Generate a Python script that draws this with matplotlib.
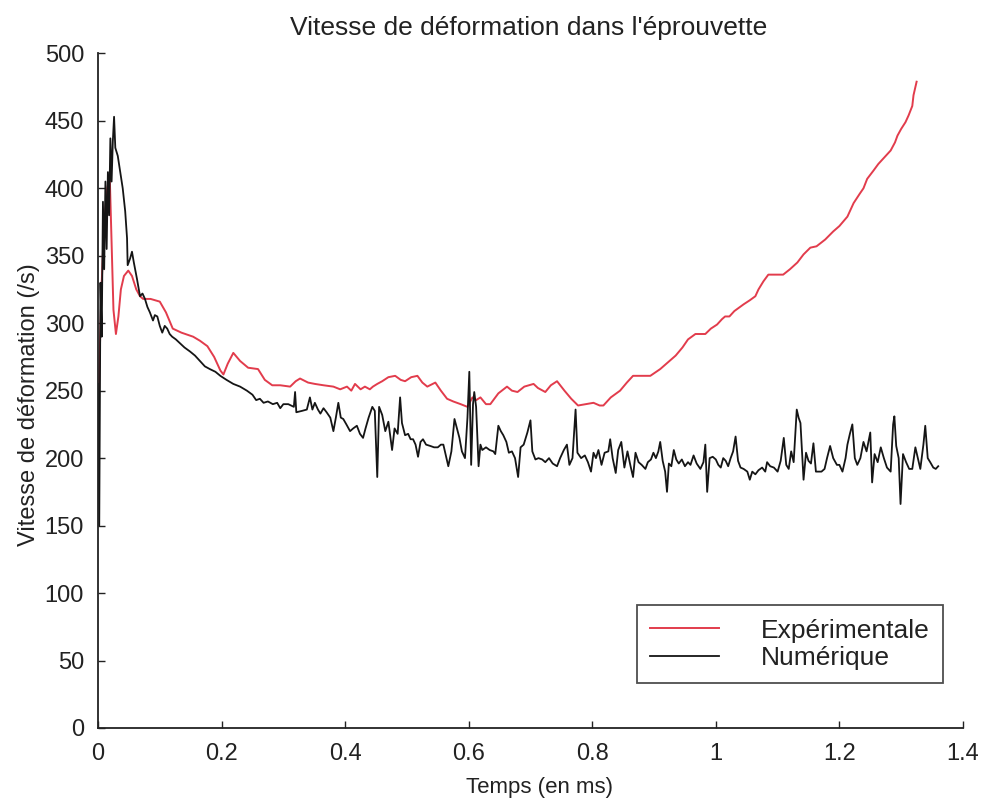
import matplotlib
matplotlib.use("Agg")
import matplotlib.pyplot as plt
from matplotlib.ticker import FuncFormatter, MultipleLocator

plt.rcParams['font.family'] = ['Liberation Sans', 'DejaVu Sans']

# Experimental strain rate (time in ms, rate in 1/s)
t_exp = [0.000, 0.002, 0.006, 0.010, 0.015, 0.019, 0.022, 0.025, 0.029, 0.033,
         0.037, 0.042, 0.049, 0.055, 0.062, 0.068, 0.073, 0.085, 0.100, 0.110,
         0.121, 0.135, 0.154, 0.165, 0.177, 0.188, 0.198, 0.203, 0.210, 0.219,
         0.230, 0.243, 0.259, 0.270, 0.282, 0.295, 0.311, 0.320, 0.327, 0.340,
         0.351, 0.365, 0.381, 0.392, 0.403, 0.410, 0.416, 0.425, 0.432, 0.440,
         0.445, 0.452, 0.460, 0.470, 0.481, 0.490, 0.497, 0.507, 0.517, 0.525,
         0.533, 0.546, 0.555, 0.565, 0.575, 0.587, 0.598, 0.606, 0.612, 0.619,
         0.628, 0.635, 0.648, 0.662, 0.670, 0.679, 0.690, 0.705, 0.712, 0.724,
         0.733, 0.743, 0.755, 0.766, 0.777, 0.790, 0.802, 0.812, 0.818, 0.830,
         0.845, 0.856, 0.866, 0.880, 0.894, 0.910, 0.925, 0.935, 0.946, 0.955,
         0.967, 0.975, 0.983, 0.992, 1.002, 1.010, 1.015, 1.022, 1.030, 1.045,
         1.055, 1.064, 1.069, 1.077, 1.085, 1.100, 1.109, 1.120, 1.132, 1.142,
         1.153, 1.163, 1.177, 1.190, 1.200, 1.213, 1.223, 1.233, 1.239, 1.245,
         1.255, 1.263, 1.275, 1.283, 1.290, 1.294, 1.300, 1.307, 1.312, 1.318,
         1.320, 1.325]
v_exp = [185, 265, 330, 375, 400, 409, 360, 310, 292, 305,
         325, 335, 339, 335, 325, 320, 318, 318, 316, 308,
         296, 293, 290, 287, 283, 275, 265, 262, 270, 278,
         272, 267, 266, 258, 254, 254, 253, 257, 259, 256,
         255, 254, 253, 251, 253, 250, 255, 251, 253, 251,
         253, 255, 257, 260, 261, 258, 257, 260, 261, 256,
         253, 256, 250, 244, 242, 240, 238, 245, 243, 245,
         240, 240, 248, 253, 250, 249, 253, 255, 252, 249,
         254, 257, 250, 244, 239, 240, 241, 239, 239, 245,
         250, 256, 261, 261, 261, 266, 272, 276, 282, 288,
         292, 292, 292, 296, 299, 303, 305, 305, 309, 314,
         317, 320, 325, 331, 336, 336, 336, 340, 345, 351,
         356, 357, 362, 368, 372, 379, 389, 396, 400, 407,
         413, 418, 424, 428, 434, 439, 444, 449, 454, 461,
         469, 479]

# Numerical strain rate (time in ms, rate in 1/s)
t_num = [0.000, 0.002, 0.004, 0.006, 0.008, 0.010, 0.012, 0.014, 0.016, 0.018,
         0.020, 0.022, 0.024, 0.026, 0.028, 0.032, 0.036, 0.040, 0.044, 0.047,
         0.048, 0.052, 0.055, 0.058, 0.063, 0.068, 0.072, 0.076, 0.080, 0.084,
         0.089, 0.092, 0.096, 0.100, 0.104, 0.108, 0.112, 0.116, 0.120, 0.126,
         0.133, 0.140, 0.149, 0.157, 0.165, 0.173, 0.181, 0.190, 0.198, 0.208,
         0.219, 0.230, 0.241, 0.250, 0.256, 0.262, 0.268, 0.275, 0.283, 0.290,
         0.295, 0.300, 0.308, 0.317, 0.319, 0.321, 0.330, 0.338, 0.343, 0.347,
         0.351, 0.356, 0.360, 0.365, 0.370, 0.376, 0.381, 0.385, 0.389, 0.393,
         0.397, 0.402, 0.408, 0.413, 0.419, 0.424, 0.429, 0.433, 0.438, 0.444,
         0.448, 0.452, 0.455, 0.460, 0.465, 0.470, 0.476, 0.480, 0.485, 0.489,
         0.492, 0.497, 0.502, 0.506, 0.510, 0.514, 0.518, 0.522, 0.526, 0.531,
         0.538, 0.544, 0.550, 0.555, 0.559, 0.563, 0.567, 0.572, 0.577, 0.581,
         0.585, 0.589, 0.594, 0.598, 0.601, 0.604, 0.607, 0.609, 0.612, 0.616,
         0.619, 0.622, 0.628, 0.634, 0.640, 0.643, 0.648, 0.652, 0.656, 0.661,
         0.665, 0.670, 0.675, 0.680, 0.684, 0.689, 0.695, 0.700, 0.703, 0.708,
         0.713, 0.719, 0.724, 0.730, 0.736, 0.743, 0.748, 0.754, 0.759, 0.763,
         0.768, 0.773, 0.776, 0.782, 0.788, 0.793, 0.798, 0.802, 0.806, 0.810,
         0.815, 0.820, 0.826, 0.829, 0.833, 0.838, 0.842, 0.847, 0.852, 0.857,
         0.862, 0.866, 0.870, 0.875, 0.880, 0.886, 0.890, 0.895, 0.899, 0.903,
         0.907, 0.910, 0.914, 0.918, 0.921, 0.924, 0.928, 0.932, 0.936, 0.940,
         0.945, 0.950, 0.955, 0.959, 0.964, 0.969, 0.975, 0.980, 0.983, 0.986,
         0.990, 0.995, 1.000, 1.004, 1.008, 1.012, 1.016, 1.020, 1.024, 1.028,
         1.032, 1.036, 1.040, 1.045, 1.051, 1.055, 1.059, 1.064, 1.069, 1.075,
         1.080, 1.083, 1.088, 1.094, 1.100, 1.105, 1.110, 1.114, 1.118, 1.122,
         1.126, 1.131, 1.134, 1.137, 1.142, 1.146, 1.150, 1.154, 1.158, 1.162,
         1.166, 1.171, 1.176, 1.180, 1.185, 1.190, 1.196, 1.200, 1.205, 1.210,
         1.213, 1.217, 1.221, 1.225, 1.229, 1.234, 1.239, 1.244, 1.250, 1.253,
         1.257, 1.262, 1.267, 1.272, 1.277, 1.283, 1.287, 1.289, 1.292, 1.296,
         1.299, 1.303, 1.308, 1.313, 1.318, 1.323, 1.327, 1.331, 1.336, 1.339,
         1.343, 1.347, 1.352, 1.356, 1.360]
v_num = [255, 150, 330, 290, 390, 340, 405, 355, 412, 380,
         437, 405, 435, 453, 430, 424, 412, 400, 383, 363,
         343, 348, 353, 345, 333, 320, 322, 318, 312, 308,
         302, 306, 305, 298, 293, 298, 296, 292, 290, 288,
         285, 282, 279, 276, 272, 268, 266, 264, 261, 258,
         255, 253, 250, 247, 243, 244, 241, 242, 240, 241,
         237, 240, 240, 238, 249, 234, 235, 236, 245, 236,
         241, 236, 233, 237, 234, 230, 220, 230, 241, 230,
         229, 225, 220, 222, 224, 218, 215, 222, 230, 238,
         235, 186, 238, 232, 220, 227, 206, 222, 218, 245,
         226, 217, 218, 214, 214, 210, 201, 212, 214, 210,
         209, 208, 208, 210, 210, 202, 194, 205, 229, 222,
         215, 205, 200, 230, 264, 195, 240, 249, 238, 194,
         210, 206, 208, 206, 205, 203, 224, 220, 217, 212,
         204, 205, 200, 186, 208, 210, 219, 228, 205, 199,
         200, 199, 197, 200, 196, 194, 200, 206, 210, 195,
         200, 236, 204, 200, 202, 197, 190, 204, 200, 206,
         195, 204, 205, 214, 200, 189, 206, 212, 193, 205,
         194, 186, 204, 197, 195, 192, 197, 199, 204, 200,
         205, 212, 198, 190, 175, 196, 194, 206, 199, 196,
         199, 194, 197, 195, 202, 196, 192, 197, 210, 175,
         200, 201, 199, 195, 193, 200, 198, 194, 200, 205,
         216, 198, 193, 192, 190, 184, 190, 188, 191, 193,
         190, 197, 194, 193, 190, 198, 215, 195, 192, 205,
         197, 236, 230, 226, 184, 204, 198, 196, 211, 190,
         190, 190, 192, 200, 209, 200, 195, 195, 190, 200,
         210, 218, 225, 200, 195, 200, 212, 205, 219, 182,
         203, 197, 208, 200, 193, 190, 225, 231, 209, 200,
         166, 203, 197, 192, 192, 208, 200, 192, 210, 224,
         200, 197, 193, 192, 194]

series_labels = ['Expérimentale', 'Numérique']
x_ticks = [0, 0.2, 0.4, 0.6, 0.8, 1.0, 1.2, 1.4]

ink = '#222222'

fig = plt.figure(figsize=(9.84, 8.05), dpi=100)
ax = fig.add_axes([0.0996, 0.0957, 0.879, 0.838])

ax.plot(t_exp, v_exp, color='#e23c4c', lw=1.4, label=series_labels[0])
ax.plot(t_num, v_num, color='#151515', lw=1.3, label=series_labels[1])

ax.set_xlim(0, 1.4)
ax.set_ylim(0, 500)
ax.set_xticks(x_ticks)
ax.yaxis.set_major_locator(MultipleLocator(50))
ax.xaxis.set_major_formatter(FuncFormatter(lambda v, p: f'{v:g}'))

for side in ('top', 'right'):
    ax.spines[side].set_visible(False)
for side in ('left', 'bottom'):
    ax.spines[side].set_linewidth(1.3)
    ax.spines[side].set_color(ink)
ax.tick_params(direction='in', length=5, width=1, labelsize=17, colors=ink)
ax.tick_params(axis='x', pad=11)
ax.tick_params(axis='y', pad=10)

fig.text(0.537, 1 - 28 / 805, "Vitesse de déformation dans l'éprouvette",
         fontsize=19, color=ink, ha='center', va='center')
ax.set_xlabel('Temps (en ms)', fontsize=16, color=ink)
ax.xaxis.set_label_coords(0.51, -0.0727)
ax.set_ylabel('Vitesse de déformation (/s)', fontsize=17, color=ink)
ax.yaxis.set_label_coords(-0.067, 0.479)

leg = ax.legend(loc='lower left', bbox_to_anchor=(0.623, 0.0667), fontsize=19,
                frameon=True, fancybox=False, edgecolor=ink,
                handlelength=2.6, handletextpad=1.6, borderpad=0.5,
                labelspacing=0.12, borderaxespad=0)
leg.get_frame().set_linewidth(1.3)
for t in leg.get_texts():
    t.set_color(ink)

fig.savefig('out.png', dpi=100, facecolor='white')
